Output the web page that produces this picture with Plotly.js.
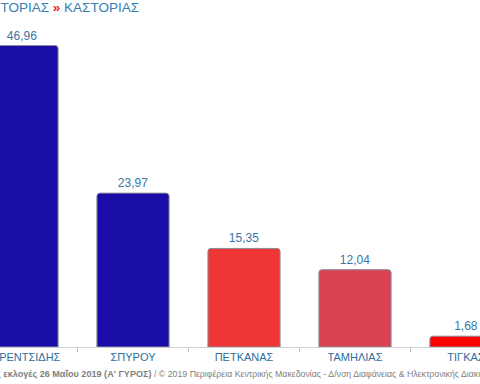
<!DOCTYPE html>
<html>
<head>
<meta charset="utf-8">
<script src="https://cdn.plot.ly/plotly-3.0.1.min.js"></script>
<style>html,body{margin:0;padding:0;background:#fff;}#chart{width:480px;height:384px;}</style>
</head>
<body>
<div id="chart"></div>
<script>
var candidates = ['ΚΟΡΕΝΤΣΙΔΗΣ', 'ΣΠΥΡΟΥ', 'ΠΕΤΚΑΝΑΣ', 'ΤΑΜΗΛΙΑΣ', 'ΤΙΓΚΑΣ'];
var percentages = [46.96, 23.97, 15.35, 12.04, 1.68];
var barColors = ['#1a0ca6', '#1a0ca6', '#ee3636', '#d94452', '#ff0000'];
var titleText = 'ΠΕΡΙΦΕΡΕΙΑΚΗ ΕΝΟΤΗΤΑ ΚΑΣΤΟΡΙΑΣ <b><span style="color:#e8262b">»</span></b> ΚΑΣΤΟΡΙΑΣ';
var footerBold = 'Περιφερειακές εκλογές 26 Μαΐου 2019 (Α\' ΓΥΡΟΣ)';
var footerRest = ' / © 2019 Περιφέρεια Κεντρικής Μακεδονίας - Δ/νση Διαφάνειας & Ηλεκτρονικής Διακυβέρνησης';

var W = 480, H = 384, mt = 26, mb = 37;
var catPx = 111, firstCenterPx = 22;
var x0 = -firstCenterPx / catPx;
var x1 = x0 + W / catPx;

var trace = {
  type: 'bar',
  x: candidates,
  y: percentages,
  marker: {color: barColors, line: {color: '#8a8a9a', width: 1}, cornerradius: 3},
  texttemplate: '%{y:.2f}',
  textposition: 'outside',
  cliponaxis: false,
  textfont: {family: 'Liberation Sans, Arial, sans-serif', size: 12, color: '#3a76a3'},
  hoverinfo: 'none'
};

var plotH = H - mt - mb;
var layout = {
  width: W, height: H,
  margin: {l: 0, r: 0, t: mt, b: mb, pad: 0},
  paper_bgcolor: '#fff', plot_bgcolor: '#fff',
  separators: ',.',
  bargap: 0.35,
  showlegend: false,
  font: {family: 'Liberation Sans, Arial, sans-serif'},
  xaxis: {
    type: 'category', range: [x0, x1], fixedrange: true,
    showline: true, linecolor: '#d0d0d0', linewidth: 1,
    ticks: 'outside', tickson: 'boundaries', ticklen: 4, tickcolor: '#c0c0c0',
    tickfont: {size: 11, color: '#2f6d9c'}, showgrid: false
  },
  yaxis: {range: [0, 50], visible: false, showgrid: false, zeroline: false, fixedrange: true},
  annotations: [
    {
      text: titleText, xref: 'paper', yref: 'paper',
      x: 141 / W, xanchor: 'right', y: 1 + (mt - 7) / plotH, yanchor: 'middle',
      showarrow: false, font: {size: 13.5, color: '#3580b0', family: 'Liberation Sans, Arial, sans-serif'}
    },
    {
      text: '<b>' + footerBold + '</b><span style="font-size:8.75px">' + footerRest + '</span>',
      xref: 'paper', yref: 'paper',
      x: -63 / W, xanchor: 'left', y: -(374 - (H - mb)) / plotH, yanchor: 'middle',
      showarrow: false, font: {size: 9.1, color: '#808080', family: 'Liberation Sans, Arial, sans-serif'}
    }
  ]
};

Plotly.newPlot('chart', [trace], layout, {displayModeBar: false, staticPlot: true});
</script>
</body>
</html>
